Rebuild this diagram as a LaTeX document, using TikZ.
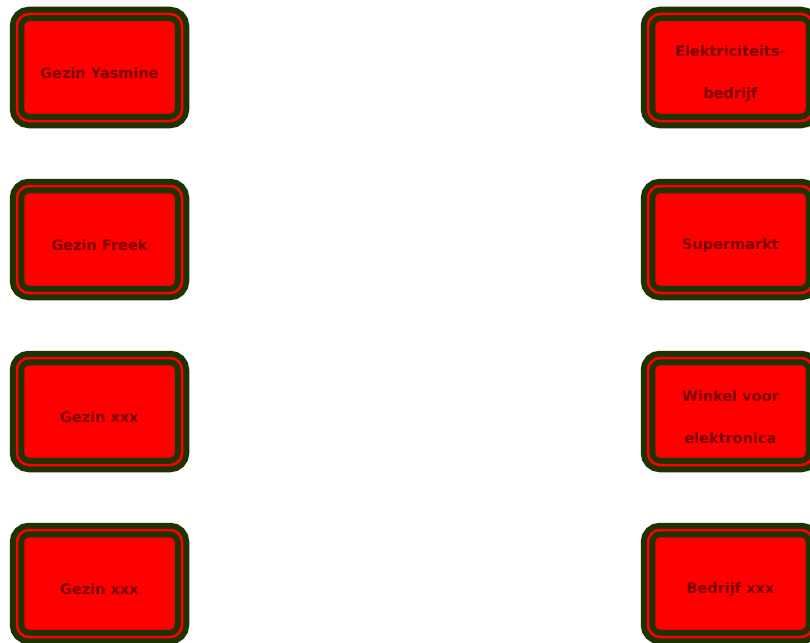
\documentclass[tikz,border=0pt]{standalone}
\usepackage{fontspec}
\setmainfont{DejaVu Sans}
\definecolor{boxdark}{HTML}{1F3300}
\definecolor{boxred}{HTML}{FF0000}
\definecolor{boxtext}{HTML}{7A0000}
\tikzset{
  actor/.style={
    draw=boxdark, line width=6pt, double=boxred, double distance=2.5pt,
    fill=boxred, rounded corners=12pt,
    minimum width=165pt, minimum height=107pt, inner sep=0pt
  },
  actortext/.style={
    align=center, text=boxtext, inner sep=0pt,
    font=\bfseries\fontsize{14.5}{42}\selectfont
  }
}
\begin{document}
\begin{tikzpicture}[x=1pt,y=-1pt]
\useasboundingbox (0,0) rectangle (810,642);
\begin{scope}
\clip (0,0) rectangle (810,642);
\node[actor] (g1) at (99.5,67.5) {};
\node[actor] (g2) at (99.5,239.5) {};
\node[actor] (g3) at (99.5,411.5) {};
\node[actor] (g4) at (99.5,583.5) {};
\node[actor] (b1) at (730.5,67.5) {};
\node[actor] (b2) at (730.5,239.5) {};
\node[actor] (b3) at (730.5,411.5) {};
\node[actor] (b4) at (730.5,583.5) {};
\node[actortext] (g1t) at ([yshift=-6pt]g1.center) {Gezin Yasmine};
\node[actortext] (g2t) at ([yshift=-6pt]g2.center) {Gezin Freek};
\node[actortext] (g3t) at ([yshift=-6pt]g3.center) {Gezin xxx};
\node[actortext] (g4t) at ([yshift=-6pt]g4.center) {Gezin xxx};
\node[actortext] (b1t) at ([yshift=-6pt]b1.center) {Elektriciteits-\\bedrijf};
\node[actortext] (b2t) at ([yshift=-6pt]b2.center) {Supermarkt};
\node[actortext] (b3t) at ([yshift=-6pt]b3.center) {Winkel voor\\elektronica};
\node[actortext] (b4t) at ([yshift=-6pt]b4.center) {Bedrijf xxx};
\end{scope}
\end{tikzpicture}
\end{document}
